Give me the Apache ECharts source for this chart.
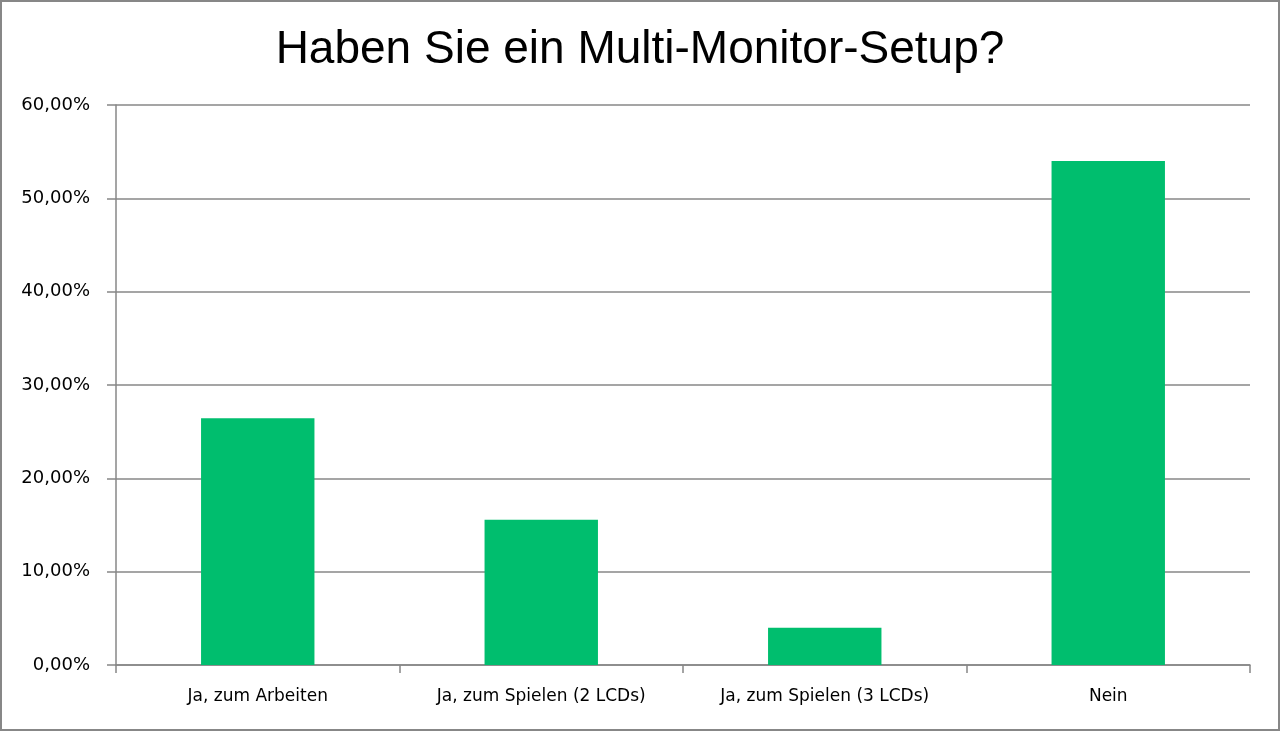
<!DOCTYPE html>
<html>
<head>
<meta charset="utf-8">
<script src="https://cdn.jsdelivr.net/npm/echarts@6/dist/echarts.min.js"></script>
<style>
  html, body { margin: 0; padding: 0; background: #fff; }
  #chart { width: 1280px; height: 731px; box-sizing: border-box; border: 2px solid #878787; }
</style>
</head>
<body>
<div id="chart"></div>
<script>
var categories = ['Ja, zum Arbeiten', 'Ja, zum Spielen (2 LCDs)', 'Ja, zum Spielen (3 LCDs)', 'Nein'];
var shares = [26.45, 15.55, 4.0, 54.0];

var chart = echarts.init(document.getElementById('chart'));
chart.setOption({
    animation: false,
    title: {
        text: 'Haben Sie ein Multi-Monitor-Setup?',
        left: 'center',
        top: 20,
        textStyle: {
            fontFamily: 'Liberation Sans',
            fontSize: 46,
            fontWeight: 'normal',
            color: '#000'
        }
    },
    grid: {
        left: 114,
        right: 28,
        top: 103,
        bottom: 64,
        containLabel: false
    },
    xAxis: {
        type: 'category',
        data: categories,
        axisLine: { lineStyle: { color: '#878787', width: 1.5 } },
        axisTick: { show: true, interval: 0, length: 8, lineStyle: { color: '#878787', width: 1.5 } },
        axisLabel: {
            interval: 0,
            hideOverlap: false,
            color: '#000',
            fontFamily: 'DejaVu Sans',
            fontSize: 17,
            margin: 23
        }
    },
    yAxis: {
        type: 'value',
        min: 0,
        max: 60,
        interval: 10,
        axisLine: { show: true, lineStyle: { color: '#878787', width: 1.5 } },
        axisTick: { show: true, length: 9, lineStyle: { color: '#878787', width: 1.5 } },
        splitLine: { lineStyle: { color: '#878787', width: 1.5 } },
        axisLabel: {
            color: '#000',
            fontFamily: 'DejaVu Sans',
            fontSize: 18,
            margin: 26,
            formatter: function (v) { return v.toFixed(2).replace('.', ',') + '%'; }
        }
    },
    series: [{
        type: 'bar',
        data: shares,
        barWidth: '40%',
        itemStyle: { color: '#00be6e' }
    }]
});
</script>
</body>
</html>
